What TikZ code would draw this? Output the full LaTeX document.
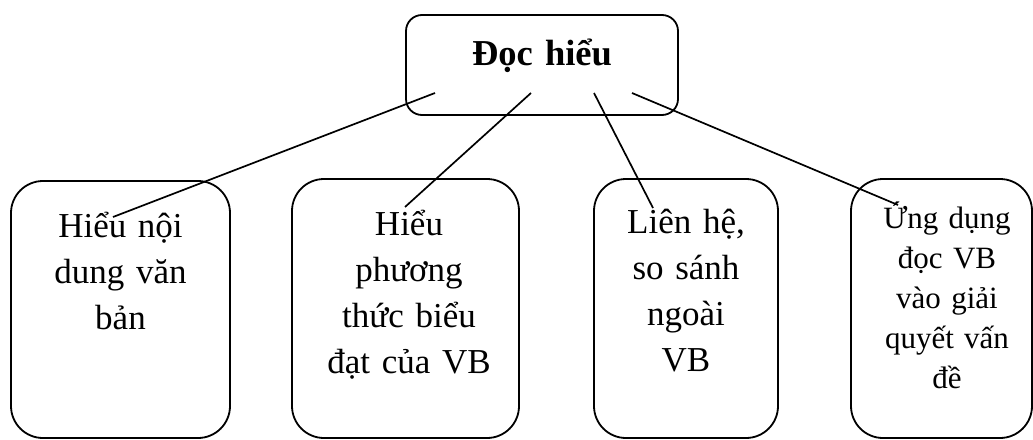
\documentclass[tikz,border=0pt]{standalone}
\usepackage{fontspec}
\setmainfont{Liberation Serif}
\begin{document}
\begin{tikzpicture}[x=1pt,y=-1pt,
  topbox/.style={draw, rectangle, line width=1.8pt, rounded corners=16pt, inner sep=0pt},
  subbox/.style={draw, rectangle, line width=1.8pt, rounded corners=32pt, inner sep=0pt},
  boxtext/.style={inner sep=0pt, align=center, anchor=base},
  bigfont/.style={font=\fontsize{35}{46}\selectfont},
  smallfont/.style={font=\fontsize{31}{40}\selectfont},
  link/.style={draw, line width=1.7pt}]
\useasboundingbox (0,0) rectangle (1033,439);

% main topic
\node[topbox, minimum width=272pt, minimum height=100pt] (doc) at (542,65) {};
\node[boxtext, text width=250pt, font=\bfseries\fontsize{36.5}{46}\selectfont] (doct) at (542,65) {Đọc hiểu};

% the four sub-topics
\node[subbox, minimum width=219pt, minimum height=257pt] (b1) at (120.5,309.5) {};
\node[subbox, minimum width=227pt, minimum height=259pt] (b2) at (405.5,308.5) {};
\node[subbox, minimum width=184pt, minimum height=259pt] (b3) at (686,308.5) {};
\node[subbox, minimum width=181pt, minimum height=259pt] (b4) at (941.5,308.5) {};

\node[boxtext, bigfont, text width=205pt] (t1) at (120.5,237) {Hiểu nội\\dung văn\\bản};
\node[boxtext, bigfont, text width=215pt] (t2) at (409,235) {Hiểu\\phương\\thức biểu\\đạt của VB};
\node[boxtext, bigfont, text width=175pt] (t3) at (686,233) {Liên hệ,\\so sánh\\ngoài\\VB};
\node[boxtext, smallfont, text width=170pt] (t4) at (947,228) {Ứng dụng\\đọc VB\\vào giải\\quyết vấn\\đề};

% connector ends
\coordinate (d1) at ([shift={(-107,28)}]doc.center);
\coordinate (d2) at ([shift={(-11,28)}]doc.center);
\coordinate (d3) at ([shift={(52,28)}]doc.center);
\coordinate (d4) at ([shift={(90,28)}]doc.center);
\coordinate (e1) at ([shift={(-7.5,-92.5)}]b1.center);
\coordinate (e2) at ([shift={(-0.5,-101.5)}]b2.center);
\coordinate (e3) at ([shift={(-33,-100.5)}]b3.center);
\coordinate (e4) at ([shift={(-43.5,-103.5)}]b4.center);

\draw[link] (d1) -- (e1);
\draw[link] (d2) -- (e2);
\draw[link] (d3) -- (e3);
\draw[link] (d4) -- (e4);
\end{tikzpicture}
\end{document}
